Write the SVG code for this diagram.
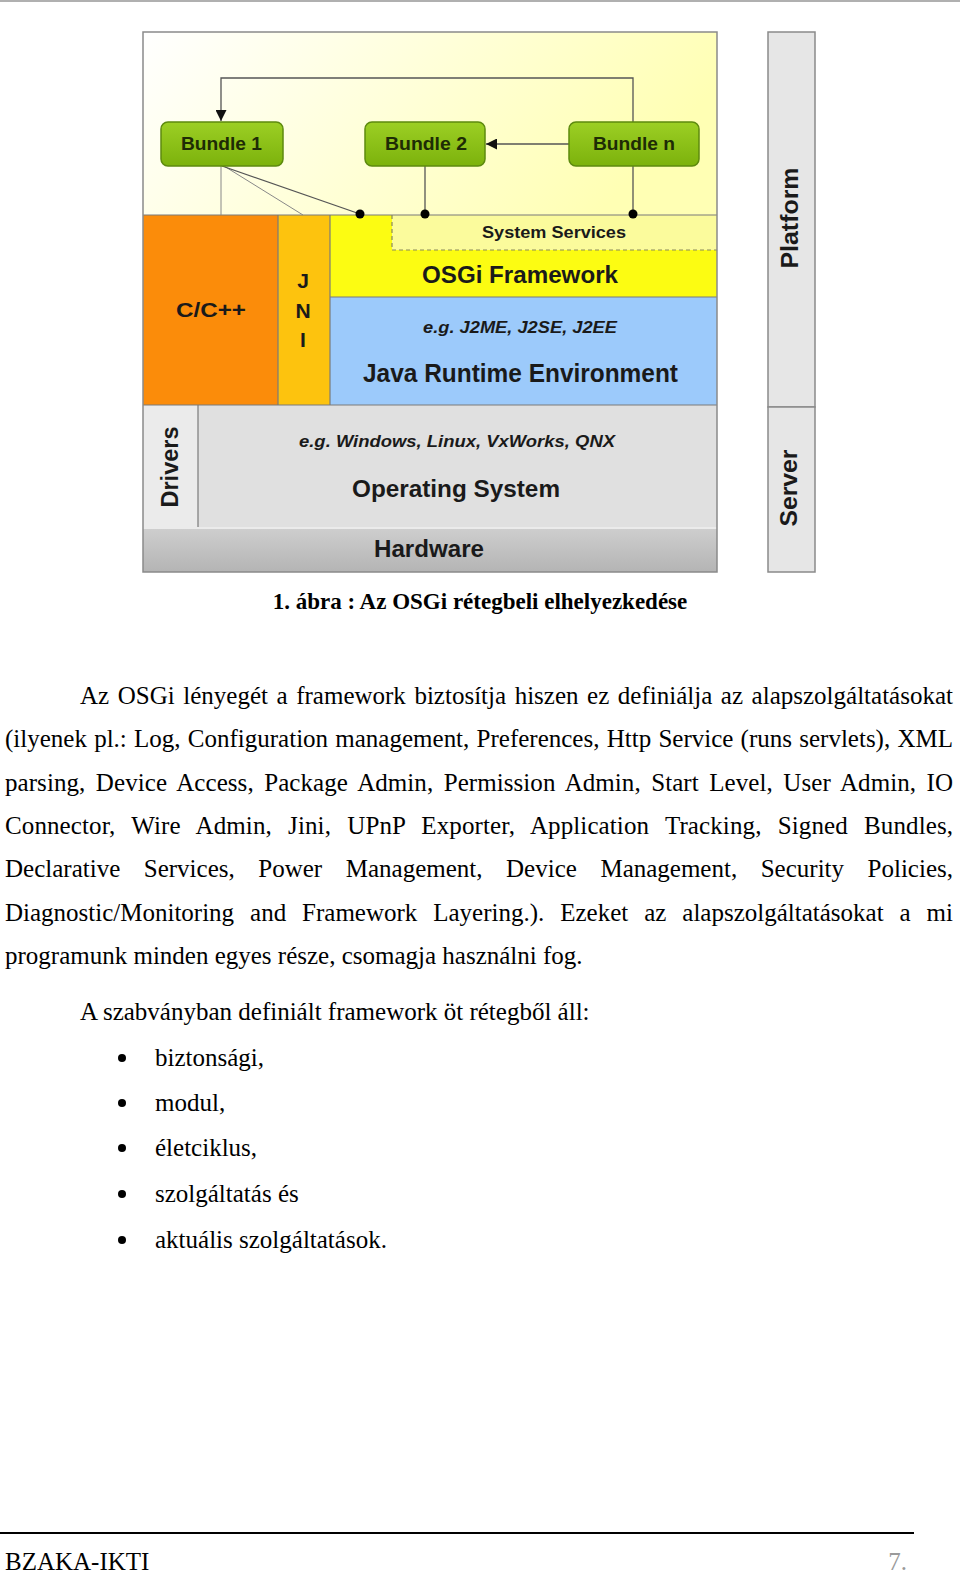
<svg xmlns="http://www.w3.org/2000/svg" width="960" height="1573" viewBox="0 0 960 1573">
<defs>
<linearGradient id="gTop" x1="0" y1="0" x2="1" y2="0.3">
<stop offset="0" stop-color="#ffffff"/>
<stop offset="1" stop-color="#ffffb4"/>
</linearGradient>
<linearGradient id="gBundle" x1="0" y1="0" x2="0" y2="1">
<stop offset="0" stop-color="#9ccf24"/>
<stop offset="1" stop-color="#7cb20c"/>
</linearGradient>
<linearGradient id="gHw" x1="0" y1="0" x2="0" y2="1">
<stop offset="0" stop-color="#cfcfcf"/>
<stop offset="1" stop-color="#b4b4b4"/>
</linearGradient>
<marker id="arr" viewBox="0 0 10 10" refX="10" refY="5" markerWidth="11" markerHeight="11" orient="auto" markerUnits="userSpaceOnUse">
<path d="M0,0 L10,5 L0,10 z" fill="#111"/>
</marker>
<style>
.d{font-family:"Liberation Sans",Arial,sans-serif;font-weight:bold;fill:#1a1a1a}
.bt{font-family:"Liberation Sans",Arial,sans-serif;font-weight:bold;font-size:17.5px;fill:#1e2c05;text-anchor:middle}
.it{font-style:italic}
.m{text-anchor:middle}
.bundle{fill:url(#gBundle);stroke:#5d8a0e;stroke-width:1.5}
.ln{stroke:#555;stroke-width:1.3;fill:none}
.ln2{stroke:#888;stroke-width:1;fill:none}
.sep{stroke:#7a7a7a;stroke-width:1.2;fill:none}
.p{font-family:"Liberation Serif","Times New Roman",serif;font-size:25px;fill:#000}
.pg{font-family:"Liberation Serif","Times New Roman",serif;font-size:25px;fill:#9a9a9a}
.cap{font-family:"Liberation Serif","Times New Roman",serif;font-size:23px;font-weight:bold;fill:#000;text-anchor:middle}
</style>
</defs>
<rect width="960" height="1573" fill="#fff"/>
<line x1="0" y1="1" x2="960" y2="1" stroke="#b0b0b0" stroke-width="2"/>

<g id="diagram-bg">
<rect x="143" y="32" width="574" height="183" fill="url(#gTop)"/>
</g>
<g id="cpp">
<rect x="143" y="215" width="135" height="190" fill="#fb8c0a"/>
<text class="d m" x="211" y="317" font-size="21" textLength="70" lengthAdjust="spacingAndGlyphs">C/C++</text>
</g>
<g id="jni">
<rect x="278" y="215" width="52" height="190" fill="#fdc30e"/>
<text class="d m" x="303" y="288" font-size="21">J</text>
<text class="d m" x="303" y="318" font-size="21">N</text>
<text class="d m" x="303" y="347" font-size="21">I</text>
</g>
<g id="osgi">
<rect x="330" y="215" width="387" height="82" fill="#fcfc12"/>
<text class="d m" x="520" y="283" font-size="24" textLength="196" lengthAdjust="spacingAndGlyphs">OSGi Framework</text>
</g>
<g id="system-services">
<rect x="392" y="215" width="325" height="35" fill="#fbfb9c"/>
<path d="M392,215 V250 H717" stroke="#8a8a5a" stroke-width="1.2" stroke-dasharray="4,3" fill="none"/>
<text class="d m" x="554" y="238" font-size="16" fill="#333" textLength="144" lengthAdjust="spacingAndGlyphs">System Services</text>
</g>
<g id="jre">
<rect x="330" y="297" width="387" height="108" fill="#9ccafb"/>
<text class="d m it" x="520" y="333" font-size="17" textLength="194" lengthAdjust="spacingAndGlyphs">e.g. J2ME, J2SE, J2EE</text>
<text class="d m" x="520.5" y="382" font-size="25" textLength="315" lengthAdjust="spacingAndGlyphs">Java Runtime Environment</text>
</g>
<g id="drivers">
<rect x="143" y="405" width="55" height="122" fill="#ebebeb"/>
<text class="d m" transform="translate(178,467) rotate(-90)" font-size="23" textLength="81" lengthAdjust="spacingAndGlyphs">Drivers</text>
</g>
<g id="os">
<rect x="198" y="405" width="519" height="122" fill="#e0e0e0"/>
<text class="d m it" x="457" y="447" font-size="17" textLength="316" lengthAdjust="spacingAndGlyphs">e.g. Windows, Linux, VxWorks, QNX</text>
<text class="d m" x="456" y="497" font-size="23" textLength="208" lengthAdjust="spacingAndGlyphs">Operating System</text>
</g>
<g id="hardware">
<rect x="143" y="527" width="574" height="45" fill="url(#gHw)"/>
<line x1="143" y1="528" x2="717" y2="528" stroke="#f4f4f4" stroke-width="1.5"/>
<text class="d m" x="429" y="557" font-size="23" textLength="110" lengthAdjust="spacingAndGlyphs">Hardware</text>
</g>
<g id="separators">
<line class="sep" x1="143" y1="215" x2="717" y2="215"/>
<line class="sep" x1="278" y1="215" x2="278" y2="405"/>
<line class="sep" x1="330" y1="215" x2="330" y2="405"/>
<line class="sep" x1="330" y1="297" x2="717" y2="297"/>
<line class="sep" x1="143" y1="405" x2="717" y2="405"/>
<line class="sep" x1="198" y1="405" x2="198" y2="527"/>
<rect x="143" y="32" width="574" height="540" fill="none" stroke="#8a8a8a" stroke-width="1.5"/>
</g>
<g id="platform">
<rect x="768" y="32" width="47" height="375" fill="#e6e6e6" stroke="#8a8a8a" stroke-width="1.5"/>
<text class="d m" transform="translate(798,218) rotate(-90)" font-size="23" textLength="101" lengthAdjust="spacingAndGlyphs">Platform</text>
</g>
<g id="server">
<rect x="768" y="407" width="47" height="165" fill="#e6e6e6" stroke="#8a8a8a" stroke-width="1.5"/>
<text class="d m" transform="translate(797,488) rotate(-90)" font-size="23" textLength="77" lengthAdjust="spacingAndGlyphs">Server</text>
</g>

<g id="connectors">
<path class="ln" d="M633,122 V78 H221 V121" marker-end="url(#arr)"/>
<line class="ln" x1="569" y1="144" x2="486" y2="144" marker-end="url(#arr)"/>
<line class="ln2" x1="221" y1="166" x2="221" y2="215"/>
<line class="ln2" x1="224" y1="166" x2="303" y2="215"/>
<line class="ln" x1="222" y1="166" x2="360" y2="214"/>
<line class="ln" x1="425" y1="166" x2="425" y2="214"/>
<line class="ln" x1="633" y1="166" x2="633" y2="214"/>
<circle cx="360" cy="214" r="4.5" fill="#000"/>
<circle cx="425" cy="214" r="4.5" fill="#000"/>
<circle cx="633" cy="214" r="4.5" fill="#000"/>
</g>
<g id="bundle1">
<rect class="bundle" x="161" y="122" width="122" height="44" rx="7"/>
<text class="bt" x="221.5" y="150" textLength="81" lengthAdjust="spacingAndGlyphs">Bundle  1</text>
</g>
<g id="bundle2">
<rect class="bundle" x="365" y="122" width="120" height="44" rx="7"/>
<text class="bt" x="426" y="150" textLength="82" lengthAdjust="spacingAndGlyphs">Bundle  2</text>
</g>
<g id="bundlen">
<rect class="bundle" x="569" y="122" width="130" height="44" rx="7"/>
<text class="bt" x="634" y="150" textLength="82" lengthAdjust="spacingAndGlyphs">Bundle  n</text>
</g>

<g id="caption">
<text class="cap" x="480" y="609">1. ábra : Az OSGi rétegbeli elhelyezkedése</text>
</g>
<g id="paragraph">
<text class="p" x="80" y="704" word-spacing="2.3" textLength="873" lengthAdjust="spacing">Az OSGi lényegét a framework biztosítja hiszen ez definiálja az alapszolgáltatásokat</text>
<text class="p" x="5" y="747" word-spacing="1" textLength="948" lengthAdjust="spacing">(ilyenek pl.: Log, Configuration management, Preferences, Http Service (runs servlets), XML</text>
<text class="p" x="5" y="791" word-spacing="4.2" textLength="948" lengthAdjust="spacing">parsing, Device Access, Package Admin, Permission Admin, Start Level, User Admin, IO</text>
<text class="p" x="5" y="834" word-spacing="9.9" textLength="948" lengthAdjust="spacing">Connector, Wire Admin, Jini, UPnP Exporter, Application Tracking, Signed Bundles,</text>
<text class="p" x="5" y="877" word-spacing="17.3" textLength="948" lengthAdjust="spacing">Declarative Services, Power Management, Device Management, Security Policies,</text>
<text class="p" x="5" y="921" word-spacing="9.7" textLength="948" lengthAdjust="spacing">Diagnostic/Monitoring and Framework Layering.). Ezeket az alapszolgáltatásokat a mi</text>
<text class="p" x="5" y="964">programunk minden egyes része, csomagja használni fog.</text>
<text class="p" x="80" y="1020">A szabványban definiált framework öt rétegből áll:</text>
</g>
<g id="bullets">
<circle cx="122" cy="1058" r="4" fill="#000"/>
<circle cx="122" cy="1103" r="4" fill="#000"/>
<circle cx="122" cy="1148" r="4" fill="#000"/>
<circle cx="122" cy="1194" r="4" fill="#000"/>
<circle cx="122" cy="1240" r="4" fill="#000"/>
<text class="p" x="155" y="1066">biztonsági,</text>
<text class="p" x="155" y="1111">modul,</text>
<text class="p" x="155" y="1156">életciklus,</text>
<text class="p" x="155" y="1202">szolgáltatás és</text>
<text class="p" x="155" y="1248">aktuális szolgáltatások.</text>
</g>
<g id="footer">
<line x1="0" y1="1533" x2="914" y2="1533" stroke="#000" stroke-width="2"/>
<text class="p" x="5" y="1570">BZAKA-IKTI</text>
<text class="pg" x="907" y="1570" text-anchor="end">7.</text>
</g>
</svg>
